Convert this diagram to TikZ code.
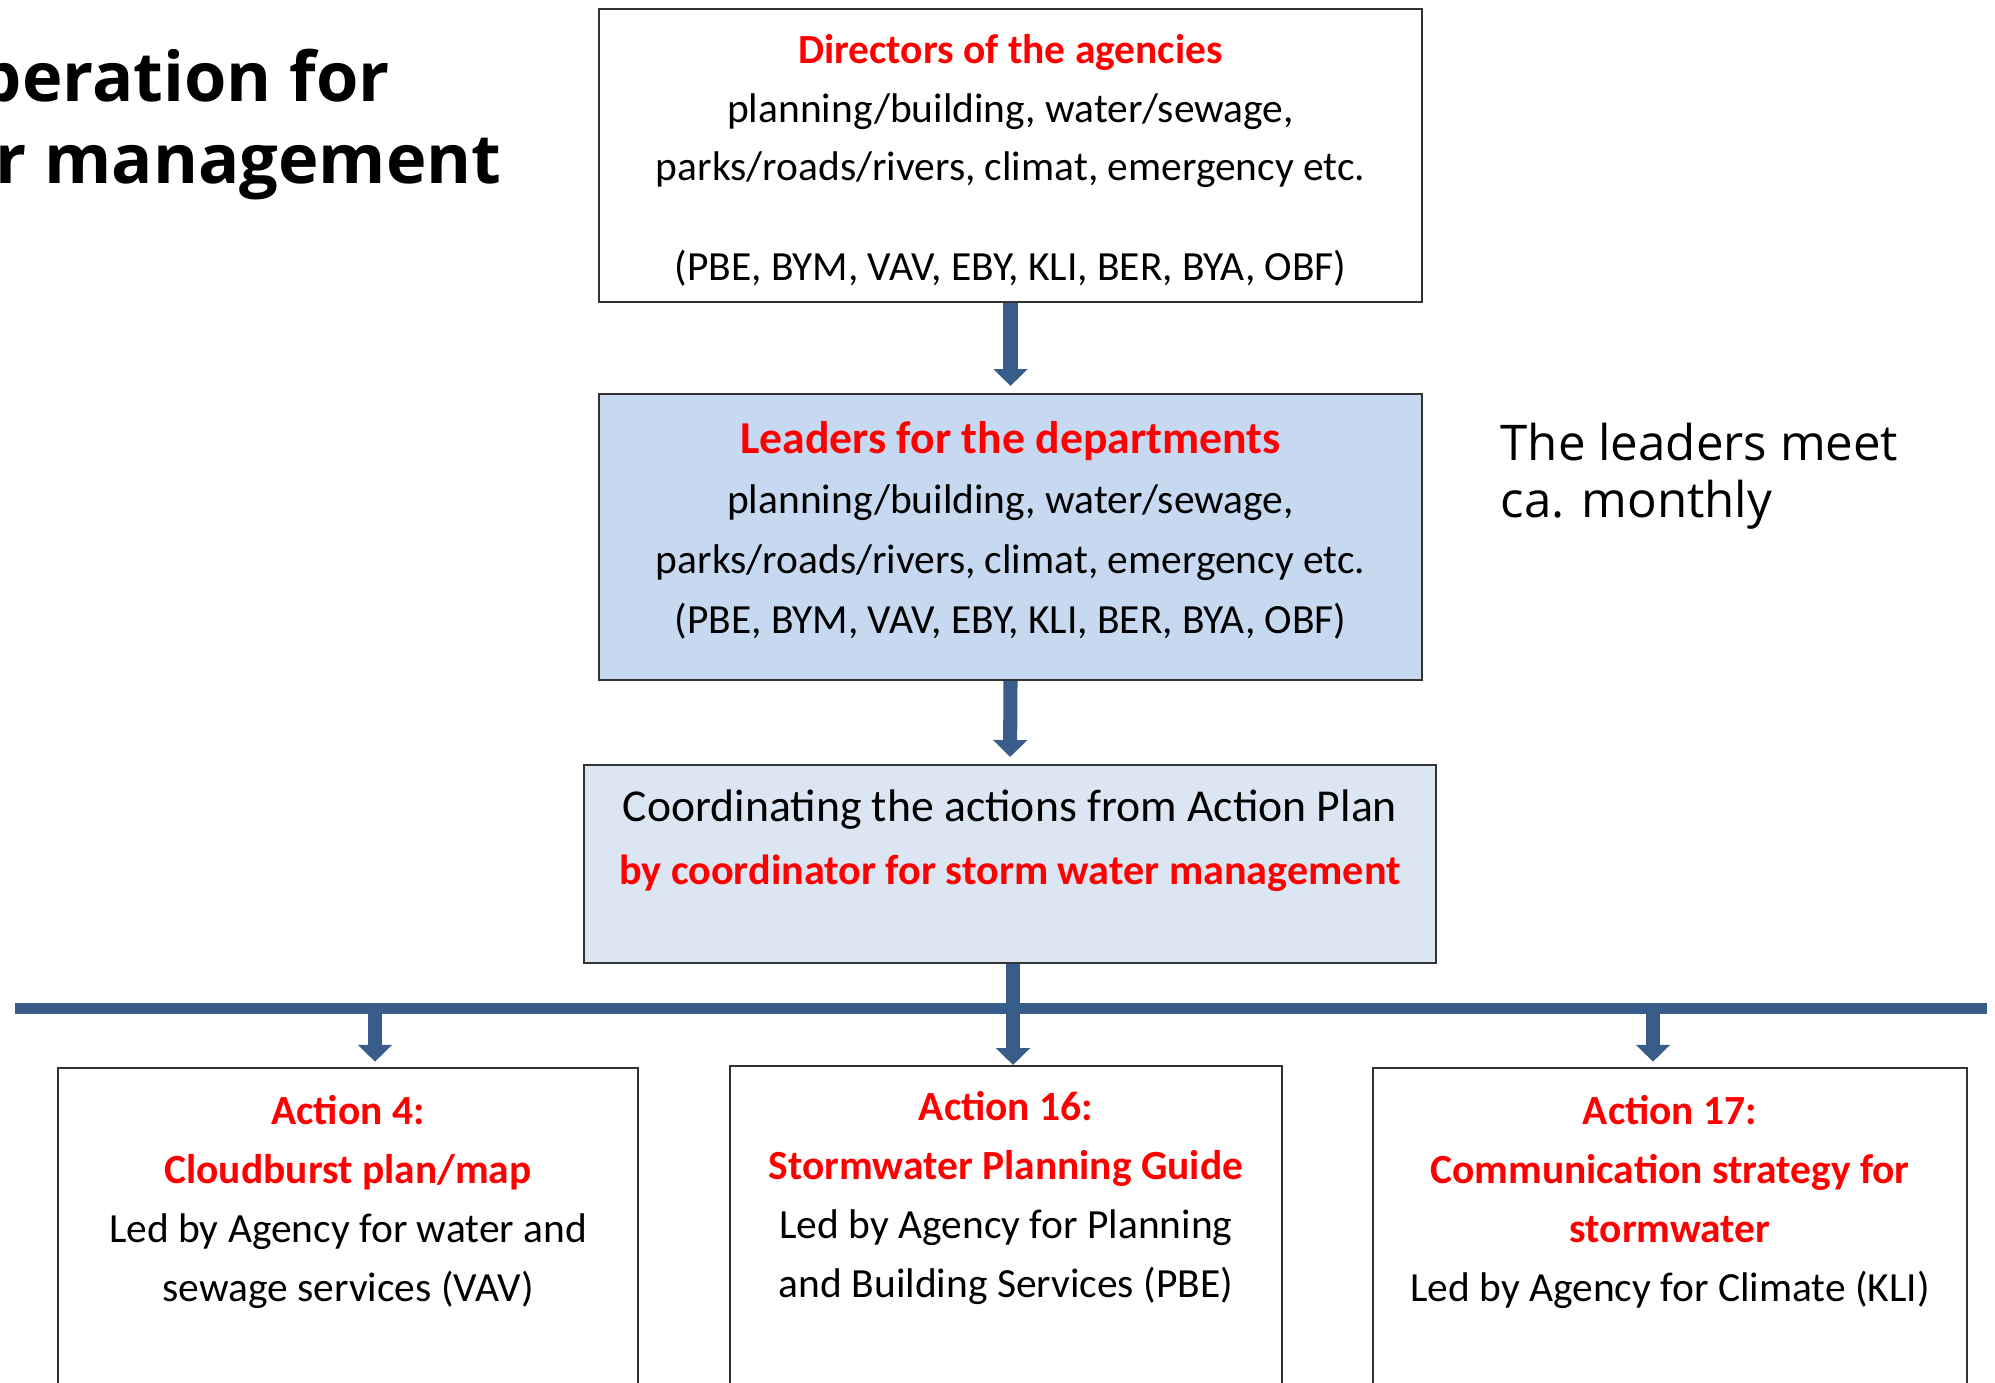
\documentclass[tikz,border=0pt]{standalone}
\usepackage{fontspec}
\setmainfont{Carlito}
\newfontfamily\notefont{Open Sans}
\usepackage{tikz}
\usetikzlibrary{calc, arrows.meta}

\definecolor{flowblue}{HTML}{385D8A}
\definecolor{leadfill}{HTML}{C6D9F1}
\definecolor{coordfill}{HTML}{DCE6F2}
\definecolor{headred}{RGB}{255,0,0}

\newcommand{\redhead}[1]{\textcolor{headred}{\bfseries #1}}

\tikzset{
    box/.style={draw=black!80, line width=0.6pt, fill=white, inner sep=0pt,
        anchor=base, align=center, font=\fontsize{11.8}{16.6}\selectfont},
    actionbox/.style={box, font=\fontsize{11.8}{16.7}\selectfont,
        text height=2.33cm, text depth=1.0cm},
    flow/.style={draw=flowblue, line width=4pt,
        -{Triangle[width=9.5pt, length=4.8pt]}},
    bus/.style={draw=flowblue, line width=3.1pt},
}

\begin{document}
\begin{tikzpicture}[scale=1]
            \useasboundingbox (0,0) rectangle (19.95,-13.83);
            % heading, cut at the left border
            \node[anchor=base west, inner sep=0pt, font=\notefont\bfseries\fontsize{19.5}{23}\selectfont] (ttl1) at (-0.22,-1.02) {peration for};
            \node[anchor=base west, inner sep=0pt, font=\notefont\bfseries\fontsize{19.5}{23}\selectfont] (ttl2) at (-0.05,-1.83) {r management};
            % the three levels (nodes sit on the baseline of their last line)
            \node[box, minimum width=8.23cm, text height=2.71cm, text depth=0.22cm] (dir) at (10.105,-2.80)
                {\redhead{Directors of the agencies}\\
                 planning/building, water/sewage,\\
                 parks/roads/rivers, climat, emergency etc.\\[11.7pt]
                 (PBE, BYM, VAV, EBY, KLI, BER, BYA, OBF)};
            \node[box, fill=leadfill, minimum width=8.23cm, text height=2.39cm, text depth=0.47cm,
                font=\fontsize{11.8}{17}\selectfont] (lead) at (10.105,-6.33)
                {{\fontsize{13}{17}\selectfont\redhead{Leaders for the departments}}\\
                 planning/building, water/sewage,\\
                 parks/roads/rivers, climat, emergency etc.\\
                 (PBE, BYM, VAV, EBY, KLI, BER, BYA, OBF)};
            \node[box, fill=coordfill, minimum width=8.52cm, text height=1.19cm, text depth=0.79cm,
                font=\fontsize{13}{17}\selectfont] (coord) at (10.10,-8.84)
                {Coordinating the actions from Action Plan\\[0.7pt]
                 {\fontsize{12}{17}\selectfont\redhead{by coordinator for storm water management}}};
            \node[anchor=base west, align=left, inner sep=0pt, font=\notefont\fontsize{14}{16.2}\selectfont] (meet) at (15.00,-5.17)
                {The leaders meet\\ ca. monthly};
            % actions
            \node[actionbox, minimum width=5.80cm] (act4) at (3.48,-13.01)
                {\redhead{Action 4:}\\
                 \redhead{Cloudburst plan/map}\\
                 Led by Agency for water and\\
                 sewage services (VAV)};
            \node[actionbox, minimum width=5.52cm, text height=2.31cm] (act16) at (10.06,-12.97)
                {\redhead{Action 16:}\\
                 \redhead{Stormwater Planning Guide}\\
                 Led by Agency for Planning\\
                 and Building Services (PBE)};
            \node[actionbox, minimum width=5.94cm] (act17) at (16.70,-13.01)
                {\redhead{Action 17:}\\
                 \redhead{Communication strategy for}\\
                 \redhead{stormwater}\\
                 Led by Agency for Climate (KLI)};
            % connectors
            \coordinate (busL) at (0.15,-10.085);
            \coordinate (busR) at (19.87,-10.085);
            \coordinate (t4) at (3.75,-10.085);
            \coordinate (t16) at (10.13,-10.085);
            \coordinate (t17) at (16.53,-10.085);
            \draw[bus] (busL) -- (busR);
            \draw[flow, shorten >=2pt] (dir.south) -- (lead.north);
            \draw[flow, shorten >=2pt] (lead.south) -- (coord.north);
            \draw[flow] (coord.south -| t16) -- (t16 |- act16.north);
            \draw[flow, shorten >=1.5pt] (t4) -- (t4 |- act4.north);
            \draw[flow, shorten >=1.5pt] (t17) -- (t17 |- act17.north);
\end{tikzpicture}
\end{document}
